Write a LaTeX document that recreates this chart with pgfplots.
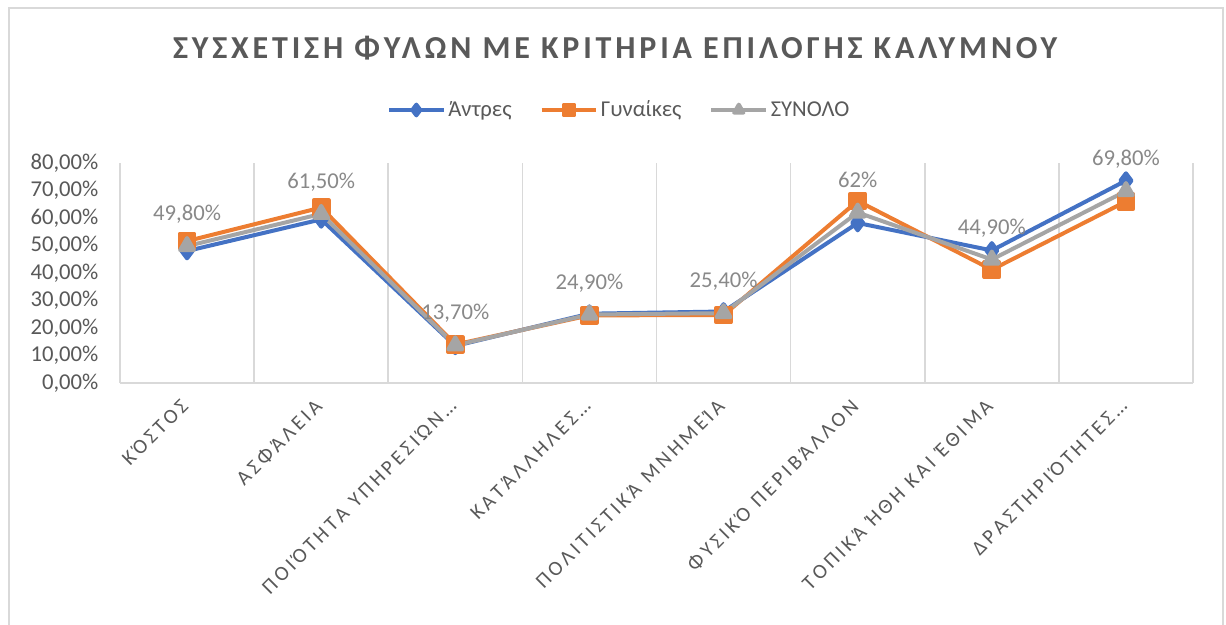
\documentclass[border=0pt]{standalone}
\usepackage{fontspec}
\setmainfont{Carlito}
\newfontfamily\titlefont[LetterSpace=12]{Carlito}
\usepackage{pgfplots}
\pgfplotsset{compat=1.18}
\definecolor{cblue}{HTML}{4472C4}
\definecolor{corange}{HTML}{ED7D31}
\definecolor{cgray}{HTML}{A5A5A5}
\definecolor{ctext}{HTML}{595959}
\definecolor{cgrid}{HTML}{D9D9D9}
\definecolor{clabel}{HTML}{898989}
\makeatletter
\def\sp@end{\sp@end}
\def\spc#1{\sp@#1\sp@end}
\def\sp@#1{\ifx#1\sp@end\else#1\kern2.5pt\expandafter\sp@\fi}
\makeatother
\def\s{\kern1.5pt}
\begin{document}
\begin{tikzpicture}
\useasboundingbox (0,0) rectangle (919.5pt,468pt);
\fill[white] (0,0) rectangle (919.5pt,468pt);
\draw[cgrid, line width=1.5pt] (6.75pt,-2pt) -- (6.75pt,462pt) -- (917.25pt,462pt) -- (917.25pt,-2pt);
\begin{axis}[
  at={(90pt,180.75pt)}, anchor=south west,
  scale only axis, width=804.75pt, height=165pt,
  xmin=0, xmax=8, ymin=0, ymax=80,
  axis line style={draw=none},
  xtick={0.5,1.5,...,7.5},
  xticklabels={{\spc{ΚΌΣΤΟΣ}}, {\spc{ΑΣΦΆΛΕΙΑ}}, {\spc{ΠΟΙΌΤΗΤΑ\s ΥΠΗΡΕΣΙΏΝ…}}, {\spc{ΚΑΤΆΛΛΗΛΕΣ…}}, {\spc{ΠΟΛΙΤΙΣΤΙΚΆ\s ΜΝΗΜΕΊΑ}}, {\spc{ΦΥΣΙΚΌ\s ΠΕΡΙΒΆΛΛΟΝ}}, {\spc{ΤΟΠΙΚΆ\s ΉΘΗ\s ΚΑΙ\s ΈΘΙΜΑ}}, {\spc{ΔΡΑΣΤΗΡΙΌΤΗΤΕΣ…}}},
  minor xtick={0,1,...,8},
  xminorgrids=true,
  minor grid style={cgrid, line width=1.2pt},
  major tick length=0pt, minor tick length=0pt,
  ytick={0,10,...,80},
  yticklabels={{0,00\%},{10,00\%},{20,00\%},{30,00\%},{40,00\%},{50,00\%},{60,00\%},{70,00\%},{80,00\%}},
  yticklabel style={anchor=east, inner sep=0pt, font=\fontsize{17}{20}\selectfont, text=ctext},
  yticklabel shift=16pt,
  xticklabel style={rotate=45, anchor=east, inner sep=0pt, font=\fontsize{15.5}{18}\selectfont, text=ctext},
  xticklabel shift=13pt,
  legend style={at={(axis description cs:0.4655,1.241)}, anchor=center, draw=none, fill=none,
    font=\fontsize{17}{20}\selectfont, text=ctext,
    /tikz/every even column/.append style={column sep=19pt}},
  legend columns=3,
  legend image code/.code={
    \draw[#1, mark=none] (0pt,0pt) -- (41pt,0pt);
    \draw[#1, mark size=4pt] plot coordinates {(20.5pt,0pt)};
  },
  clip=false,
]
\draw[cgrid, line width=1.2pt] (axis cs:0,0) -- (axis cs:8,0);
\addplot[cblue, line width=3pt, line join=round, mark=diamond*, mark size=5.5pt, mark options={solid, fill=cblue}]
  coordinates {(0.5,48.0) (1.5,59.5) (2.5,13.5) (3.5,25.2) (4.5,26.0) (5.5,58.2) (6.5,48.2) (7.5,73.6)};
\addlegendentry{Άντρες}
\addplot[corange, line width=3pt, line join=round, mark=square*, mark size=5.5pt, mark options={solid, fill=corange}]
  coordinates {(0.5,51.6) (1.5,63.8) (2.5,14.0) (3.5,24.6) (4.5,24.7) (5.5,66.2) (6.5,41.2) (7.5,66.0)};
\addlegendentry{Γυναίκες}
\addplot[cgray, line width=3pt, line join=round, mark=triangle*, mark size=6pt, mark options={solid, fill=cgray},
  nodes near coords, point meta=explicit symbolic,
  every node near coord/.append style={anchor=base, yshift=19pt, font=\fontsize{17}{20}\selectfont, text=clabel}]
  coordinates {(0.5,49.8) [49,80\%] (1.5,61.5) [61,50\%] (2.5,13.7) [13,70\%] (3.5,24.9) [24,90\%] (4.5,25.4) [25,40\%] (5.5,62.0) [62\%] (6.5,44.9) [44,90\%] (7.5,69.8) [69,80\%]};
\addlegendentry{ΣΥΝΟΛΟ}
\end{axis}
\node[font=\titlefont\bfseries\fontsize{24}{28}\selectfont, text=ctext] at (461.25pt,432pt) {ΣΥΣΧΕΤΙΣΗ ΦΥΛΩΝ ΜΕ ΚΡΙΤΗΡΙΑ ΕΠΙΛΟΓΗΣ ΚΑΛΥΜΝΟΥ};
\end{tikzpicture}
\end{document}
